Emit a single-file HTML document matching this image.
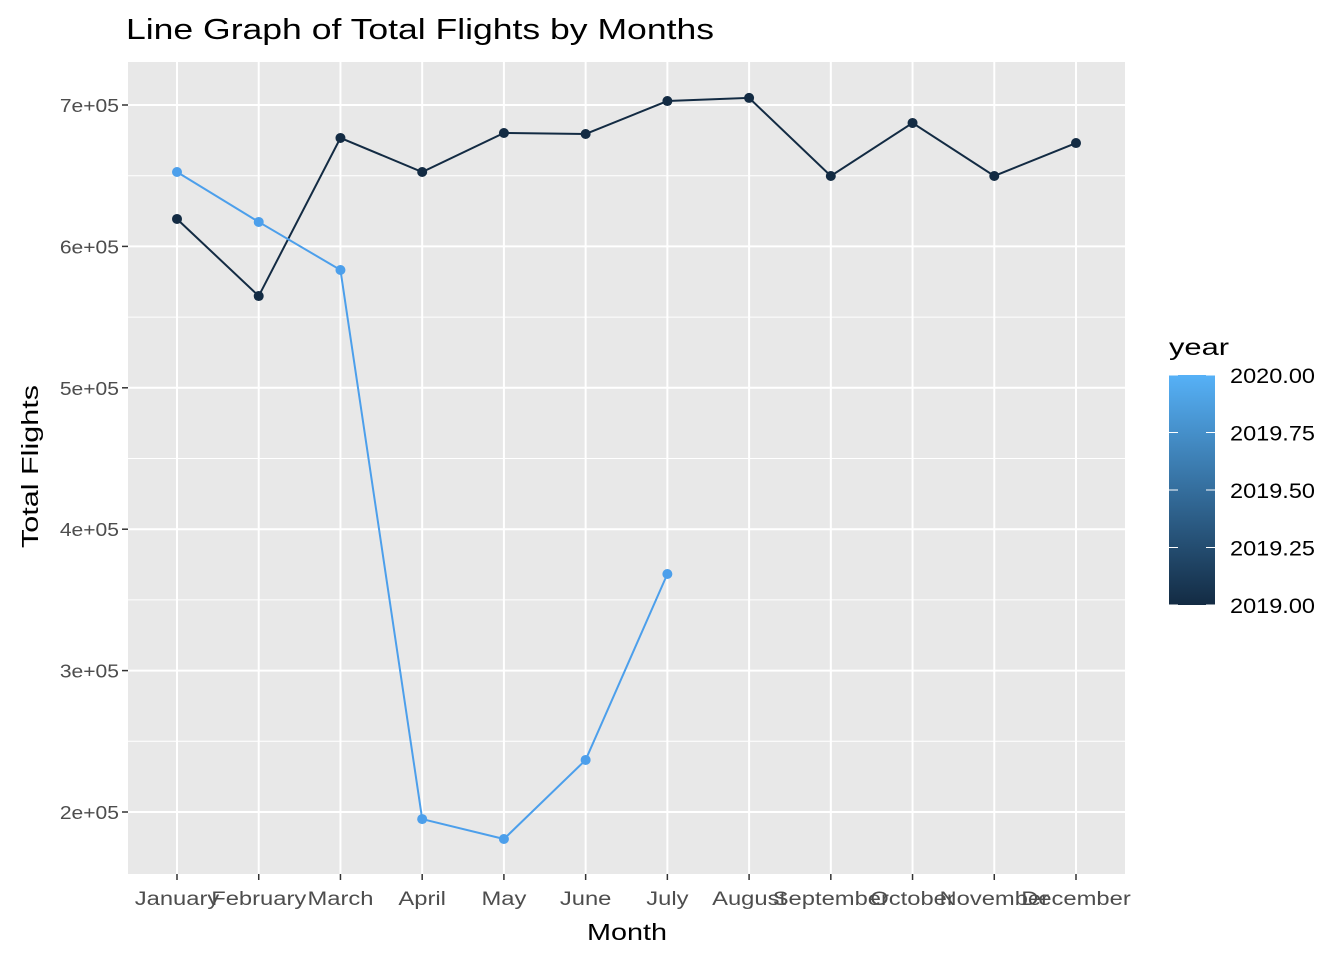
<!DOCTYPE html>
<html><head><meta charset="utf-8"><style>
body{margin:0;background:#fff;font-family:"Liberation Sans",Arial,sans-serif}
svg text{font-family:"Liberation Sans",Arial,sans-serif}
</style></head><body>
<svg id="c" width="1344" height="960" xmlns="http://www.w3.org/2000/svg">
<defs><linearGradient id="g" x1="0" y1="1" x2="0" y2="0"><stop offset="0" stop-color="#132B43"/><stop offset="1" stop-color="#56B1F7"/></linearGradient></defs>
<text x="126" y="39" font-size="29" fill="#000" textLength="588" lengthAdjust="spacingAndGlyphs">Line Graph of Total Flights by Months</text>
<rect x="128" y="62" width="997" height="812" fill="#E8E8E8"/>
<g id="grid"></g><g id="series"></g><g id="axes"></g>
<text x="587" y="940" font-size="23" textLength="80" lengthAdjust="spacingAndGlyphs">Month</text>
<text transform="translate(38,548) rotate(-90)" font-size="23" textLength="163" lengthAdjust="spacingAndGlyphs">Total Flights</text>
<g>
<text x="1169" y="355" font-size="23" textLength="60" lengthAdjust="spacingAndGlyphs">year</text>
<rect x="1169" y="375" width="46" height="230" fill="url(#g)"/>
<g id="leg"></g>
</g>
</svg>
<script>
const months=["January","February","March","April","May","June","July","August","September","October","November","December"];
const flights2019=[619400,564900,676700,652600,680200,679500,702800,705000,649800,687300,649800,673100];
const flights2020=[652600,617300,583300,195000,180900,236800,368300];
const yTicks=[200000,300000,400000,500000,600000,700000];
const yTickLabels=["2e+05","3e+05","4e+05","5e+05","6e+05","7e+05"];
const legendTicks=[2019,2019.25,2019.5,2019.75,2020];
const ns="http://www.w3.org/2000/svg";
const X=i=>177+i*(1076-177)/11;
const Y=v=>812-(v-200000)*(707/500000);
function mk(t,a,p){const e=document.createElementNS(ns,t);for(const k in a)e.setAttribute(k,a[k]);p.appendChild(e);return e;}
function stretch(t,f){const w=t.getComputedTextLength();t.setAttribute('textLength',w*f);t.setAttribute('lengthAdjust','spacingAndGlyphs');}
const grid=document.getElementById('grid'),ser=document.getElementById('series'),ax=document.getElementById('axes'),leg=document.getElementById('leg');
for(let k=0;k<yTicks.length-1;k++){const y=Y((yTicks[k]+yTicks[k+1])/2);const l=mk('line',{x1:128,x2:1125,y1:y,y2:y,stroke:'#fff','stroke-width':1},grid);}
yTicks.forEach((v,i)=>{const y=Y(v);const l=mk('line',{x1:128,x2:1125,y1:y,y2:y,stroke:'#fff','stroke-width':2},grid);
mk('line',{x1:122,x2:128,y1:y,y2:y,stroke:'#333','stroke-width':1.5},ax);
const t=mk('text',{x:119,y:y+7,'font-size':18,'text-anchor':'end',fill:'#4D4D4D'},ax);t.textContent=yTickLabels[i];stretch(t,1.17);});
months.forEach((m,i)=>{const x=X(i);const l=mk('line',{x1:x,x2:x,y1:62,y2:874,stroke:'#fff','stroke-width':2},grid);
mk('line',{x1:x,x2:x,y1:874,y2:880,stroke:'#333','stroke-width':1.5},ax);
const t=mk('text',{x:x,y:905,'font-size':19,'text-anchor':'middle',fill:'#4D4D4D'},ax);t.textContent=m;stretch(t,1.25);});
function draw(vals,col,name){const p=mk('polyline',{points:vals.map((v,i)=>X(i)+','+Y(v)).join(' '),fill:'none',stroke:col,'stroke-width':2},ser);
vals.forEach((v,i)=>{const c=mk('circle',{cx:X(i),cy:Y(v),r:5,fill:col},ser);});}
draw(flights2019,'#132B43','series-2019');
draw(flights2020,'#4C9FEB','series-2020');
legendTicks.forEach(v=>{const y=605-(v-2019)*230;
mk('line',{x1:1169,x2:1178,y1:y,y2:y,stroke:'#fff','stroke-width':1},leg);mk('line',{x1:1206,x2:1215,y1:y,y2:y,stroke:'#fff','stroke-width':1},leg);
const t=mk('text',{x:1230,y:y+8,'font-size':21,fill:'#000',textLength:85,lengthAdjust:'spacingAndGlyphs'},leg);t.textContent=v.toFixed(2);});
</script>
</body></html>
